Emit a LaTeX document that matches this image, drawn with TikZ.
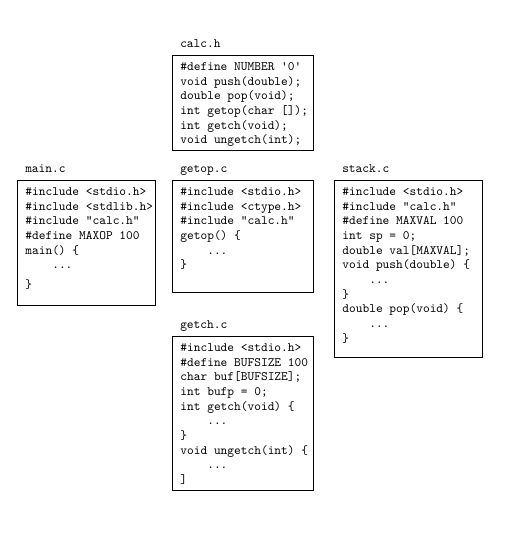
\documentclass[tikz,border=0pt]{standalone}
\usetikzlibrary{positioning}

% one source file: width, height, lines
\newcommand{\SrcFile}[3]{%
	\begin{minipage}[t][#2][t]{#1}%
	\fontsize{9.6}{11}\selectfont\ttfamily
	\vspace*{3.6pt}%
	\begin{tabular}[t]{@{}l@{}}#3\end{tabular}%
	\end{minipage}}
\newcommand{\Dots}{\hphantom{mmmm}...}

\begin{document}
\begin{tikzpicture}[
	x=0.75pt,
	y=-0.75pt]

\tikzstyle{file}=[draw, line width=0.6pt, anchor=north west,
	inner xsep=6pt, inner ysep=0pt]
\tikzstyle{file name}=[inner sep=0pt,
	font=\fontsize{9.6}{11}\selectfont\ttfamily]

\useasboundingbox (0,0) rectangle (512,543);

% calc.h
\node (calch) [file] at (172,55) {\SrcFile{93.75pt}{71.25pt}{%
	\#define NUMBER '0'\\
	void push(double);\\
	double pop(void);\\
	int getop(char []);\\
	int getch(void);\\
	void ungetch(int);}};
\node (calchname) [file name, above right=6pt and 6pt of calch.north west,
	anchor=base west] {calc.h};

% main.c
\node (mainc) [file] at (17,180) {\SrcFile{91.5pt}{93.75pt}{%
	\#include <stdio.h>\\
	\#include <stdlib.h>\\
	\#include "calc.h"\\
	\#define MAXOP 100\\
	main() \{\\
	\Dots\\[3.8pt]
	\}}};
\node (maincname) [file name, above right=6pt and 6pt of mainc.north west,
	anchor=base west] {main.c};

% getop.c
\node (getopc) [file] at (172,180) {\SrcFile{93.75pt}{84pt}{%
	\#include <stdio.h>\\
	\#include <ctype.h>\\
	\#include "calc.h"\\
	getop() \{\\
	\Dots\\
	\}}};
\node (getopcname) [file name, above right=6pt and 6pt of getopc.north west,
	anchor=base west] {getop.c};

% stack.c
\node (stackc) [file] at (334,180) {\SrcFile{99pt}{132.75pt}{%
	\#include <stdio.h>\\
	\#include "calc.h"\\
	\#define MAXVAL 100\\
	int sp = 0;\\
	double val[MAXVAL];\\
	void push(double) \{\\
	\Dots\\
	\}\\
	double pop(void) \{\\
	\Dots\\
	\}}};
\node (stackcname) [file name, above right=6pt and 6pt of stackc.north west,
	anchor=base west] {stack.c};

% getch.c
\node (getchc) [file] at (172,336) {\SrcFile{93.75pt}{115.5pt}{%
	\#include <stdio.h>\\
	\#define BUFSIZE 100\\
	char buf[BUFSIZE];\\
	int bufp = 0;\\
	int getch(void) \{\\
	\Dots\\
	\}\\
	void ungetch(int) \{\\
	\Dots\\
	]}};
\node (getchcname) [file name, above right=6pt and 6pt of getchc.north west,
	anchor=base west] {getch.c};

\end{tikzpicture}
\end{document}
